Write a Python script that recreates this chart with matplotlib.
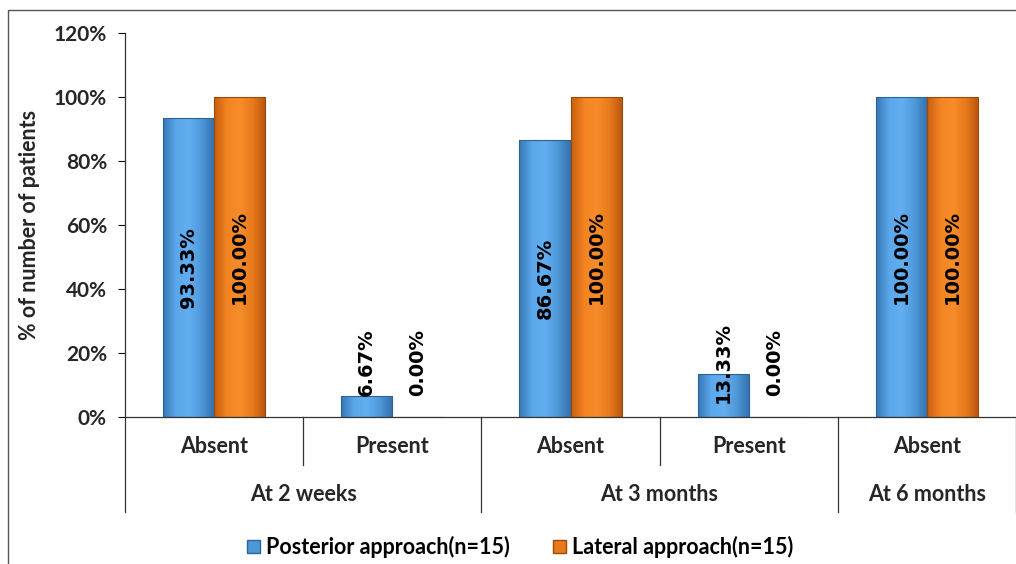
import matplotlib.pyplot as plt
import numpy as np
from matplotlib.colors import LinearSegmentedColormap
from matplotlib.patches import Patch, Rectangle
from matplotlib.transforms import blended_transform_factory

categories = ["Absent", "Present", "Absent", "Present", "Absent"]
groups = ["At 2 weeks", "At 3 months", "At 6 months"]
group_sizes = [2, 2, 1]
posterior = [93.33, 6.67, 86.67, 13.33, 100.00]
lateral = [100.00, 0.00, 100.00, 0.00, 100.00]
series_names = ["Posterior approach(n=15)", "Lateral approach(n=15)"]

LABEL_FONT = ["Lato", "DejaVu Sans"]
NUM_FONT = ["DejaVu Sans"]
TXT = "#262626"

blue_cmap = LinearSegmentedColormap.from_list(
    "b", ["#3778b8", "#5aa7ea", "#62aef0", "#4f98d8", "#3470ad"])
orange_cmap = LinearSegmentedColormap.from_list(
    "o", ["#c85e10", "#f48422", "#f78c2a", "#e77a1a", "#b95510"])

fig = plt.figure(figsize=(10.16, 5.64), dpi=100)
ax = fig.add_axes([125 / 1016, 147 / 564, 1 - 125 / 1016, 384 / 564])

x = np.arange(len(categories))
w = 0.287
grad = np.linspace(0, 1, 64).reshape(1, -1)


def gradient_bars(xs, vals, cmap, edge):
    bars = ax.bar(xs, vals, width=w, color="none", edgecolor=edge, linewidth=0.8, zorder=3)
    for b in bars:
        if b.get_height() <= 0:
            continue
        x0, y0 = b.get_x(), b.get_y()
        im = ax.imshow(grad, cmap=cmap, aspect="auto", zorder=2,
                       extent=(x0, x0 + b.get_width(), y0, y0 + b.get_height()))
        im.set_clip_path(b)
    return bars


gradient_bars(x - w / 2, posterior, blue_cmap, "#2d6297")
gradient_bars(x + w / 2, lateral, orange_cmap, "#9c4a0c")

# value labels, rotated inside the bars (small values sit above the axis)
for xs, vals in ((x - w / 2, posterior), (x + w / 2, lateral)):
    for xi, v in zip(xs, vals):
        ypos = v / 2 if v > 50 else 17
        ax.text(xi, ypos, f"{v:.2f}%", rotation=90, ha="center", va="center",
                fontsize=14, fontweight="bold", family=NUM_FONT, color="black", zorder=5)

ax.set_xlim(-0.5, len(categories) - 0.5)
ax.set_ylim(0, 120)
ax.set_yticks(np.arange(0, 121, 20))
ax.set_yticklabels([f"{t}%" for t in range(0, 121, 20)], fontsize=15,
                   fontweight="bold", family=LABEL_FONT, color=TXT)
ax.tick_params(axis="y", length=5, width=0.8, pad=8)
ax.set_xticks([])
ax.set_ylabel("% of number of patients", fontsize=15.5, fontweight="bold",
              family=LABEL_FONT, color=TXT, labelpad=10)
ax.spines[["top", "right"]].set_visible(False)
for s in ("left", "bottom"):
    ax.spines[s].set_linewidth(0.9)
    ax.spines[s].set_color("#333333")

# multi-level category axis
tr = blended_transform_factory(ax.transData, ax.transAxes)
for xi, c in zip(x, categories):
    ax.text(xi, -0.078, c, transform=tr, ha="center", va="center", fontsize=15.5,
            fontweight="bold", family=LABEL_FONT, color=TXT)
edges = np.cumsum([0] + group_sizes) - 0.5
for i, g in enumerate(groups):
    ax.text((edges[i] + edges[i + 1]) / 2, -0.203, g, transform=tr, ha="center",
            va="center", fontsize=15.5, fontweight="bold", family=LABEL_FONT, color=TXT)
for b in np.arange(len(categories) + 1) - 0.5:
    depth = -0.247 if b in edges else -0.125
    ax.plot([b, b], [0, depth], transform=tr, color="#333333", lw=0.9, clip_on=False)

handles = [Patch(facecolor="#4f98d8", edgecolor="#2d6297"),
           Patch(facecolor="#e77a1a", edgecolor="#9c4a0c")]
fig.legend(handles, series_names, loc="center", bbox_to_anchor=(0.512, 0.03), ncol=2,
           frameon=False, handlelength=0.6, handleheight=0.6, handletextpad=0.3,
           columnspacing=2.0, prop={"family": LABEL_FONT, "weight": "bold", "size": 15.5})

fig.patches.append(Rectangle((8 / 1016, -0.1), 1.1, 0.982 + 0.1, transform=fig.transFigure,
                             fill=False, edgecolor="#555555", lw=1.0))

fig.savefig("out.png", dpi=100)
